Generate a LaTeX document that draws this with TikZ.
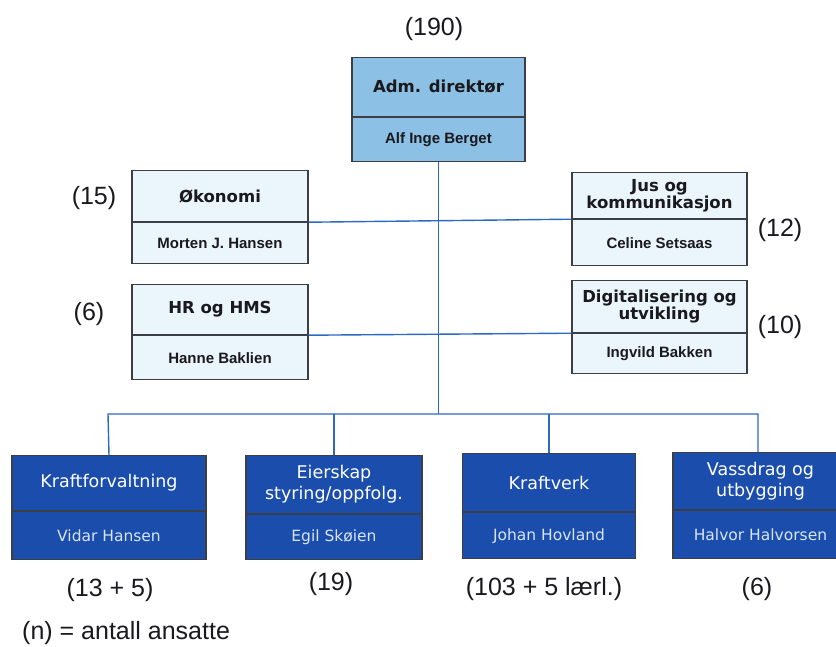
\documentclass[tikz,border=0pt]{standalone}
\usepackage{fontspec}
\setmainfont{Liberation Sans}
\newfontfamily\dvs{DejaVu Sans}
\newfontfamily\lib{Liberation Sans}
\definecolor{topfill}{RGB}{140,192,228}
\definecolor{lightfill}{RGB}{234,245,252}
\definecolor{darkfill}{RGB}{27,78,172}
\definecolor{boxline}{RGB}{60,62,70}
\definecolor{conn}{RGB}{45,105,195}
\definecolor{namelight}{RGB}{215,228,245}
\definecolor{txt}{RGB}{25,25,30}
\begin{document}
\begin{tikzpicture}[x=1pt,y=-1pt,
  part/.style={draw=boxline, line width=1.2pt, inner sep=0pt, align=center, anchor=north},
  ttl/.style={part, text=txt, font=\dvs\bfseries\fontsize{16.5}{19.5}\selectfont},
  nm/.style={part, text=txt, font=\lib\bfseries\fontsize{15}{17}\selectfont},
  dttl/.style={part, fill=darkfill, text=white, font=\dvs\fontsize{17.5}{21}\selectfont},
  dnm/.style={part, fill=darkfill, text=namelight, font=\dvs\fontsize{15.5}{18}\selectfont},
  cnt/.style={text=txt, inner sep=0pt, font=\lib\fontsize{25}{28}\selectfont},
  link/.style={draw=conn, line width=1.4pt}]
\clip (0,0) rectangle (836,647);
\fill[white] (0,0) rectangle (836,647);

\coordinate (busL) at (108,414);
\coordinate (busR) at (758,414);
\coordinate (busM) at (438.5,414);

% top box
\node[ttl, fill=topfill, minimum width=173pt, minimum height=59pt] (adm) at (438.5,57) {Adm. direktør};
\node[nm, fill=topfill, minimum width=173pt, minimum height=44pt] (admn) at (adm.south) {Alf Inge Berget};

% staff boxes
\node[ttl, fill=lightfill, minimum width=176pt, minimum height=51pt] (oko) at (220,170) {Økonomi};
\node[nm, fill=lightfill, minimum width=176pt, minimum height=41pt] (okon) at (oko.south) {Morten J. Hansen};
\node[ttl, fill=lightfill, minimum width=176pt, minimum height=50pt] (hr) at (220,284) {HR og HMS};
\node[nm, fill=lightfill, minimum width=176pt, minimum height=44pt] (hrn) at (hr.south) {Hanne Baklien};
\node[ttl, fill=lightfill, minimum width=175pt, minimum height=46pt] (jus) at (659.5,172) {Jus og\\[-2pt]kommunikasjon};
\node[nm, fill=lightfill, minimum width=175pt, minimum height=46pt] (jusn) at (jus.south) {Celine Setsaas};
\node[ttl, fill=lightfill, minimum width=175pt, minimum height=52pt] (dig) at (659.5,280) {Digitalisering og\\[-2pt]utvikling};
\node[nm, fill=lightfill, minimum width=175pt, minimum height=40pt] (dign) at (dig.south) {Ingvild Bakken};

% line units
\node[dttl, minimum width=194pt, minimum height=55pt] (kf) at (109,455) {Kraftforvaltning};
\node[dnm, minimum width=194pt, minimum height=48pt] (kfn) at (kf.south) {Vidar Hansen};
\node[dttl, minimum width=176pt, minimum height=58pt] (eie) at (334,455) {Eierskap\\styring/oppfolg.};
\node[dnm, minimum width=176pt, minimum height=45pt] (eien) at (eie.south) {Egil Skøien};
\node[dttl, minimum width=173pt, minimum height=58pt] (kv) at (549,453) {Kraftverk};
\node[dnm, minimum width=173pt, minimum height=46pt] (kvn) at (kv.south) {Johan Hovland};
\node[dttl, minimum width=175pt, minimum height=57pt] (vas) at (760.5,452) {Vassdrag og\\utbygging};
\node[dnm, minimum width=175pt, minimum height=48pt] (vasn) at (vas.south) {Halvor Halvorsen};

% connectors
\draw[link] (oko.south east) -- (jus.south west);
\draw[link] (hr.south east) -- (dig.south west);
\draw[link] (admn.south) -- (busM);
\draw[link] (kf.north) -- (busL) -- (busR) -- (vas.north -| busR);
\draw[link] (eie.north) -- (eie.north |- busM);
\draw[link] (kv.north) -- (kv.north |- busM);

% counts
\node[cnt] (c190) at (434,29) {(190)};
\node[cnt] (c15) at (94,198) {(15)};
\node[cnt] (c6a) at (89,314) {(6)};
\node[cnt] (c12) at (780,230) {(12)};
\node[cnt] (c10) at (780,327) {(10)};
\node[cnt] (c135) at (110,590) {(13 + 5)};
\node[cnt] (c19) at (331,584) {(19)};
\node[cnt] (c103) at (544,589) {(103 + 5 lærl.)};
\node[cnt] (c6b) at (757,589) {(6)};
\node[cnt, anchor=west] (legend) at (22,633) {(n) = antall ansatte};
\end{tikzpicture}
\end{document}
